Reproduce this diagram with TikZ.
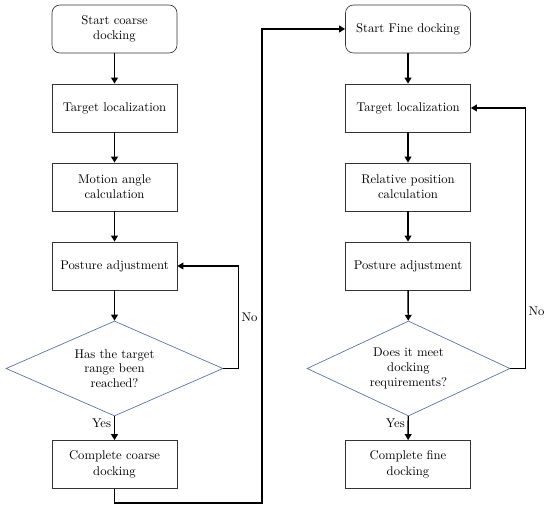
\documentclass[tikz,border=0pt]{standalone}
\usepackage{tikz}
\usetikzlibrary{shapes.geometric,arrows.meta}

\definecolor{decideblue}{RGB}{84,112,168}
\tikzset{
  stepbox/.style={draw=black!80,line width=0.5pt,minimum width=93.75pt,minimum height=36pt,
    align=center,font=\fontsize{9.5}{11.5}\selectfont,inner sep=1pt},
  startbox/.style={stepbox,rounded corners=6pt},
  decide/.style={diamond,draw=decideblue,line width=0.5pt,aspect=2.3,minimum height=71.25pt,
    inner sep=0pt,align=center,font=\fontsize{9.5}{11}\selectfont},
  flow/.style={line width=1.1pt,-{Triangle[length=4.5pt,width=5pt]}},
  lbl/.style={font=\fontsize{9.5}{11.5}\selectfont,inner sep=2pt}
}

\begin{document}
\begin{tikzpicture}[x=0.75pt,y=-0.75pt]
          \useasboundingbox (0,0) rectangle (550,509);
          % coarse docking
          \node[startbox] (s1) at (114.5,29){Start coarse\\docking};
          \node[stepbox] (t1) at (114.5,108){Target localization};
          \node[stepbox] (m1) at (114.5,187){Motion angle\\calculation};
          \node[stepbox] (p1) at (114.5,266){Posture adjustment};
          \node[decide,minimum width=162.75pt] (d1) at (114.5,368.5){Has the target\\range been\\reached?};
          \node[stepbox] (c1) at (114.5,464.5){Complete coarse\\docking};
          % fine docking
          \node[startbox] (s2) at (408,29){Start Fine docking};
          \node[stepbox] (t2) at (408,108){Target localization};
          \node[stepbox] (r2) at (408,187){Relative position\\calculation};
          \node[stepbox] (p2) at (408,266){Posture adjustment};
          \node[decide,minimum width=152.25pt,aspect=2.14] (d2) at (408.5,368.5){Does it meet\\docking\\requirements?};
          \node[stepbox] (c2) at (408,464.5){Complete fine\\docking};
          \coordinate (turn) at (262,503);

          \draw[flow] (s1) -- (t1);
          \draw[flow] (t1) -- (m1);
          \draw[flow] (m1) -- (p1);
          \draw[flow] (p1) -- (d1);
          \draw[flow] (d1) -- node[lbl,left,pos=0.3]{Yes} (c1);
          \draw[flow] (d1.east) -- ++(15,0) |- node[lbl,right,pos=0.25]{No} (p1.east);
          \draw[flow] (c1.south) |- (turn) |- (s2.west);

          \draw[flow] (s2) -- (t2);
          \draw[flow] (t2) -- (r2);
          \draw[flow] (r2) -- (p2);
          \draw[flow] (p2) -- (d2);
          \draw[flow] (d2) -- node[lbl,left,pos=0.3]{Yes} (c2);
          \draw[flow] (d2.east) -- ++(15,0) |- node[lbl,right,pos=0.11]{No} (t2.east);
        \end{tikzpicture}
\end{document}
